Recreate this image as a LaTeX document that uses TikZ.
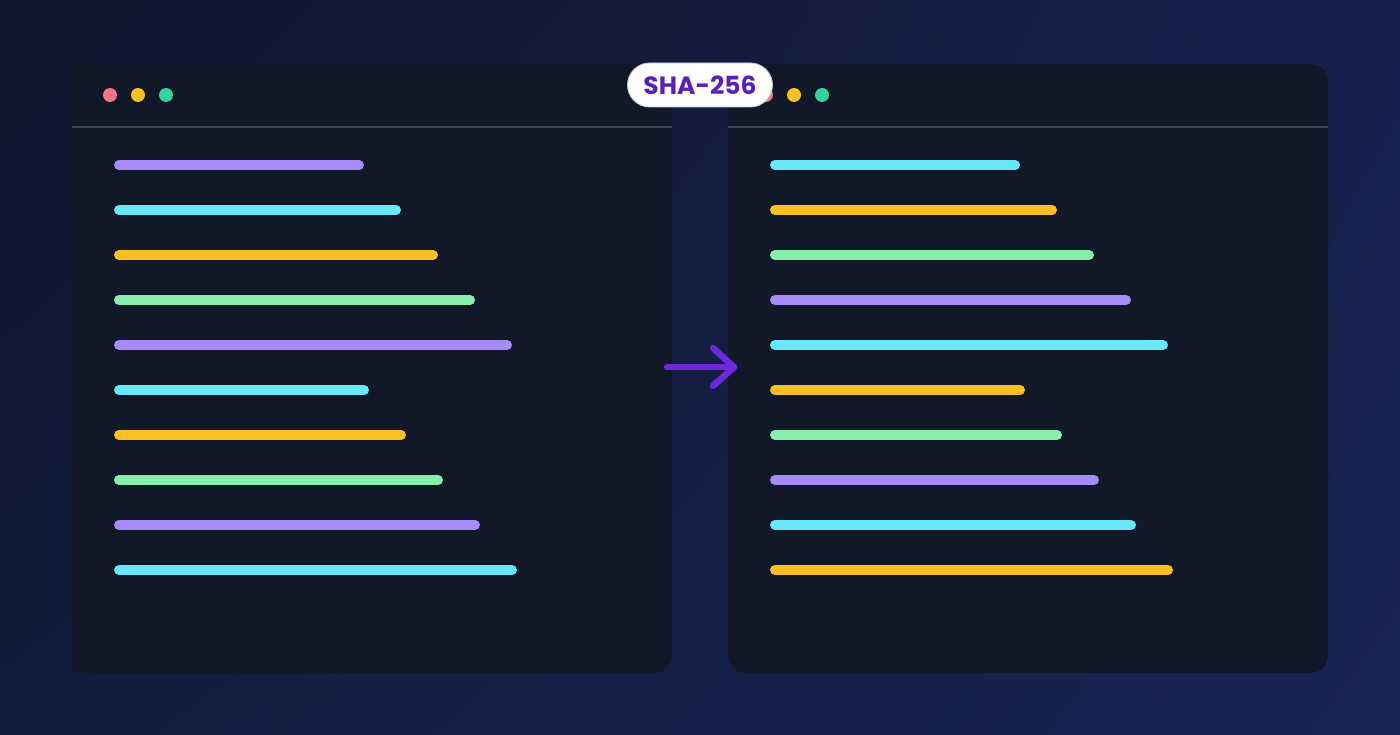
\documentclass[tikz,border=0pt]{standalone}
\usepackage{fontspec}
\newfontfamily\badgefont{Poppins}
\usetikzlibrary{positioning, shadings}

\definecolor{bgtopleft}{RGB}{16,22,44}
\definecolor{bgtopright}{RGB}{22,33,78}
\definecolor{bgbottomleft}{RGB}{16,28,62}
\definecolor{bgbottomright}{RGB}{24,36,84}
\definecolor{winfill}{RGB}{17,24,39}
\definecolor{sepline}{RGB}{58,68,82}
\definecolor{dotred}{RGB}{251,113,133}
\definecolor{dotyellow}{RGB}{251,191,36}
\definecolor{dotgreen}{RGB}{52,211,153}
\definecolor{codepurple}{RGB}{167,139,250}
\definecolor{codecyan}{RGB}{103,232,249}
\definecolor{codeyellow}{RGB}{251,191,36}
\definecolor{codegreen}{RGB}{134,239,172}
\definecolor{hashpurple}{RGB}{91,33,182}
\definecolor{arrowpurple}{RGB}{109,40,217}

\tikzset{
	codeline/.style={line width=10pt, line cap=round},
	headdot/.style={circle, inner sep=0pt, minimum size=14pt},
	badge/.style={fill=white, draw={rgb,255:red,200;green,200;blue,210}, line width=0.8pt,
		rounded corners=22pt, minimum width=145pt, minimum height=44pt, inner sep=0pt,
		text=hashpurple, font=\badgefont\bfseries\fontsize{25}{25}\selectfont},
	arrowline/.style={arrowpurple, line width=6.5pt, line cap=round, line join=round}
}

\begin{document}
\begin{tikzpicture}[x=1pt, y=-1pt]
	        % background
	        \shade [upper left=bgtopleft, upper right=bgtopright, lower left=bgbottomleft, lower right=bgbottomright] (0, 0) rectangle (1400, 735);
	        \useasboundingbox (0, 0) rectangle (1400, 735);

	        % left window (input)
	        \fill [winfill, rounded corners=18pt] (72, 64) rectangle (672, 673);
	        \fill [winfill] (72, 64) rectangle (300, 673);
	        \draw [sepline, line width=2pt] (72, 127) -- (672, 127);
	        \node [headdot, fill=dotred] at (110, 95) (lred) {};
	        \node [headdot, fill=dotyellow] at (138, 95) (lyellow) {};
	        \node [headdot, fill=dotgreen] at (166, 95) (lgreen) {};

	        \draw [codeline, codepurple] (119, 165) -- (359, 165);
	        \draw [codeline, codecyan] (119, 210) -- (396, 210);
	        \draw [codeline, codeyellow] (119, 255) -- (433, 255);
	        \draw [codeline, codegreen] (119, 300) -- (470, 300);
	        \draw [codeline, codepurple] (119, 345) -- (507, 345);
	        \draw [codeline, codecyan] (119, 390) -- (364, 390);
	        \draw [codeline, codeyellow] (119, 435) -- (401, 435);
	        \draw [codeline, codegreen] (119, 480) -- (438, 480);
	        \draw [codeline, codepurple] (119, 525) -- (475, 525);
	        \draw [codeline, codecyan] (119, 570) -- (512, 570);

	        % right window (hashed)
	        \fill [winfill, rounded corners=18pt] (728, 64) rectangle (1328, 673);
	        \draw [sepline, line width=2pt] (728, 127) -- (1328, 127);
	        \node [headdot, fill=dotred] at (766, 95) (rred) {};
	        \node [headdot, fill=dotyellow] at (794, 95) (ryellow) {};
	        \node [headdot, fill=dotgreen] at (822, 95) (rgreen) {};

	        \draw [codeline, codecyan] (775, 165) -- (1015, 165);
	        \draw [codeline, codeyellow] (775, 210) -- (1052, 210);
	        \draw [codeline, codegreen] (775, 255) -- (1089, 255);
	        \draw [codeline, codepurple] (775, 300) -- (1126, 300);
	        \draw [codeline, codecyan] (775, 345) -- (1163, 345);
	        \draw [codeline, codeyellow] (775, 390) -- (1020, 390);
	        \draw [codeline, codegreen] (775, 435) -- (1057, 435);
	        \draw [codeline, codepurple] (775, 480) -- (1094, 480);
	        \draw [codeline, codecyan] (775, 525) -- (1131, 525);
	        \draw [codeline, codeyellow] (775, 570) -- (1168, 570);

	        % hash badge and arrow
	        \node [badge] at (700, 85) (hash) {SHA-256};
	        \coordinate (tail) at (667, 367);
	        \coordinate (tip) at (734, 367);
	        \coordinate (barbup) at (713, 348);
	        \coordinate (barbdown) at (713, 386);
	        \draw [arrowline] (tail) -- (tip);
	        \draw [arrowline] (barbup) -- (tip) -- (barbdown);
        \end{tikzpicture}
\end{document}
